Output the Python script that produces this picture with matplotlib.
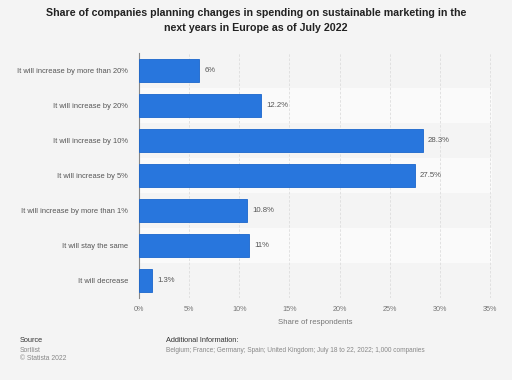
import matplotlib.pyplot as plt
from matplotlib.ticker import FuncFormatter

plt.rcParams['font.family'] = ['Liberation Sans', 'DejaVu Sans']

categories = ['It will increase by more than 20%', 'It will increase by 20%',
              'It will increase by 10%', 'It will increase by 5%',
              'It will increase by more than 1%', 'It will stay the same',
              'It will decrease']
values = [6, 12.2, 28.3, 27.5, 10.8, 11, 1.3]
value_labels = ['6%', '12.2%', '28.3%', '27.5%', '10.8%', '11%', '1.3%']
xticks = [0, 5, 10, 15, 20, 25, 30, 35]

bg = '#f4f4f4'
fig = plt.figure(figsize=(5.12, 3.8), dpi=100, facecolor=bg)
ax = fig.add_axes([139/512, 1 - 298/380, (492 - 139)/512, (298 - 53)/380])
ax.set_facecolor(bg)

n = len(categories)
ypos = list(range(n))
for i in ypos:
    if i % 2 == 1:
        ax.axhspan(i - 0.5, i + 0.5, color='#fafafa', zorder=0, lw=0)

ax.barh(ypos, values, height=0.68, color='#2876dd', edgecolor='#1a66cc',
        linewidth=0.6, zorder=3)
for y, v, lab in zip(ypos, values, value_labels):
    ax.text(v + 0.5, y, lab, va='center', ha='left', fontsize=5.6,
            color='#555555', zorder=4)

ax.set_ylim(n - 0.5, -0.5)
ax.set_xlim(0, 35.2)
ax.set_yticks(ypos)
ax.set_yticklabels(categories, fontsize=5.4, color='#555555')
ax.set_xticks(xticks)
ax.xaxis.set_major_formatter(FuncFormatter(lambda x, p: f'{x:.0f}%'))
ax.tick_params(axis='x', labelsize=5.2, colors='#777777', length=0, pad=6)
ax.tick_params(axis='y', length=0, pad=8)
ax.grid(axis='x', color='#dddddd', linestyle=(0, (3, 2)), linewidth=0.6, zorder=1)
for s in ['top', 'right', 'bottom']:
    ax.spines[s].set_visible(False)
ax.spines['left'].set_color('#888888')
ax.spines['left'].set_linewidth(0.8)
ax.set_xlabel('Share of respondents', fontsize=5.6, color='#777777', labelpad=4)

fig.text(0.5, 1 - 8/380,
         'Share of companies planning changes in spending on sustainable marketing in the\n'
         'next years in Europe as of July 2022',
         ha='center', va='top', fontsize=7.7, fontweight='bold', color='#222222',
         linespacing=1.65)

fig.text(20/512, 1 - 341/380, 'Source', fontsize=5.3, color='#333333', va='center')
fig.text(20/512, 1 - 350/380, 'Sortlist', fontsize=4.9, color='#888888', va='center')
fig.text(20/512, 1 - 358/380, '\u00a9 Statista 2022', fontsize=4.9, color='#888888', va='center')
fig.text(166/512, 1 - 341/380, 'Additional Information:', fontsize=5.3, color='#333333', va='center')
fig.text(166/512, 1 - 350/380,
         'Belgium; France; Germany; Spain; United Kingdom; July 18 to 22, 2022; 1,000 companies',
         fontsize=4.7, color='#888888', va='center')

fig.savefig('out.png', dpi=100, facecolor=bg)
